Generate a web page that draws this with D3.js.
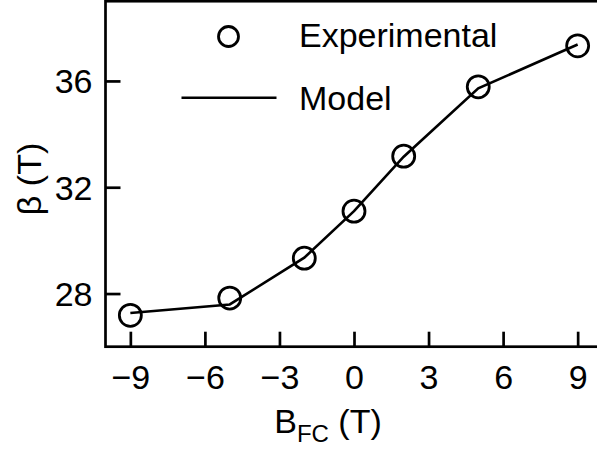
<!DOCTYPE html>
<html>
<head>
<meta charset="utf-8">
<script src="https://cdn.jsdelivr.net/npm/d3@7"></script>
<style>
  html, body { margin: 0; padding: 0; background: #fff; overflow: hidden; }
  svg { display: block; font-family: "Liberation Sans", Arial, Helvetica, sans-serif; }
</style>
</head>
<body>
<script>
// Field-cooling field (T) and fitted exchange parameter beta (T)
const fieldValues = [-9, -5, -2, 0, 2, 5, 9];
const experimentalBeta = [27.18, 27.83, 29.33, 31.1, 33.17, 35.78, 37.32];
const modelBeta = [27.27, 27.59, 29.35, 31.1, 33.15, 35.72, 37.37];
const xTicks = [-9, -6, -3, 0, 3, 6, 9];
const yTicks = [28, 32, 36];
const legendLabels = ["Experimental", "Model"];

const W = 597, H = 452;
const margin = { left: 105.5, top: 1.2, right: -5.5, bottom: 105.3 };
const FONT = 34;

const svg = d3.select("body").append("svg")
  .attr("width", W).attr("height", H);

const x = d3.scaleLinear().domain([-10, 10])
  .range([margin.left, W - margin.right]);
const y = d3.scaleLinear().domain([26, 39])
  .range([H - margin.bottom, margin.top]);

const fmt = d3.format("");
const tickLen = 15;
const stroke = 2.7;

// Frame
svg.append("rect")
  .attr("x", x(-10)).attr("y", y(39))
  .attr("width", x(10) - x(-10)).attr("height", y(26) - y(39))
  .attr("fill", "none").attr("stroke", "#000").attr("stroke-width", stroke);

// Bottom axis: labels from d3.axisBottom, ticks pointing into the plot
const xAxis = svg.append("g")
  .attr("transform", `translate(0,${y(26)})`)
  .call(d3.axisBottom(x).tickValues(xTicks).tickFormat(fmt)
    .tickSize(0).tickPadding(0));
xAxis.select(".domain").remove();
xAxis.selectAll(".tick line").remove();
xAxis.selectAll(".tick").append("line")
  .attr("y1", 0).attr("y2", -tickLen)
  .attr("stroke", "#000").attr("stroke-width", stroke);
xAxis.selectAll(".tick text")
  .attr("font-size", FONT).attr("fill", "#000")
  .attr("font-family", "Liberation Sans, Arial, sans-serif")
  .attr("dy", "0").attr("y", 42);

// Left axis: labels from d3.axisLeft, ticks pointing into the plot
const yAxis = svg.append("g")
  .attr("transform", `translate(${x(-10)},0)`)
  .call(d3.axisLeft(y).tickValues(yTicks).tickFormat(fmt)
    .tickSize(0).tickPadding(13));
yAxis.select(".domain").remove();
yAxis.selectAll(".tick line").remove();
yAxis.selectAll(".tick").append("line")
  .attr("x1", 0).attr("x2", tickLen)
  .attr("stroke", "#000").attr("stroke-width", stroke);
yAxis.selectAll(".tick text")
  .attr("font-size", FONT).attr("fill", "#000")
  .attr("font-family", "Liberation Sans, Arial, sans-serif")
  .attr("dy", "0.35em");

// Model curve
const line = d3.line()
  .x((d, i) => x(fieldValues[i]))
  .y(d => y(d));
svg.append("path")
  .datum(modelBeta)
  .attr("d", line)
  .attr("fill", "none").attr("stroke", "#000").attr("stroke-width", 2.6);

// Experimental points
svg.append("g").selectAll("circle")
  .data(experimentalBeta)
  .join("circle")
  .attr("cx", (d, i) => x(fieldValues[i]))
  .attr("cy", d => y(d))
  .attr("r", 11)
  .attr("fill", "none").attr("stroke", "#000").attr("stroke-width", 2.8);

// Legend
const legend = svg.append("g");
legend.append("circle")
  .attr("cx", 228.5).attr("cy", 36.5).attr("r", 10)
  .attr("fill", "none").attr("stroke", "#000").attr("stroke-width", 2.8);
legend.append("line")
  .attr("x1", 181.5).attr("x2", 276.5).attr("y1", 97.7).attr("y2", 97.7)
  .attr("stroke", "#000").attr("stroke-width", 2.6);
legend.selectAll("text")
  .data(legendLabels)
  .join("text")
  .attr("x", 299)
  .attr("y", (d, i) => [47, 110][i])
  .attr("font-size", FONT)
  .text(d => d);

// Axis titles
const xTitle = svg.append("text")
  .attr("x", 328).attr("y", 433)
  .attr("text-anchor", "middle")
  .attr("font-size", FONT);
xTitle.append("tspan").text("B");
xTitle.append("tspan").attr("font-size", 24).attr("dy", 9).text("FC");
xTitle.append("tspan").attr("dy", -9).text(" (T)");

svg.append("text")
  .attr("transform", `translate(41,${(y(26) + y(39)) / 2 + 5}) rotate(-90)`)
  .attr("text-anchor", "middle")
  .attr("font-size", FONT)
  .text("β (T)");
</script>
</body>
</html>
